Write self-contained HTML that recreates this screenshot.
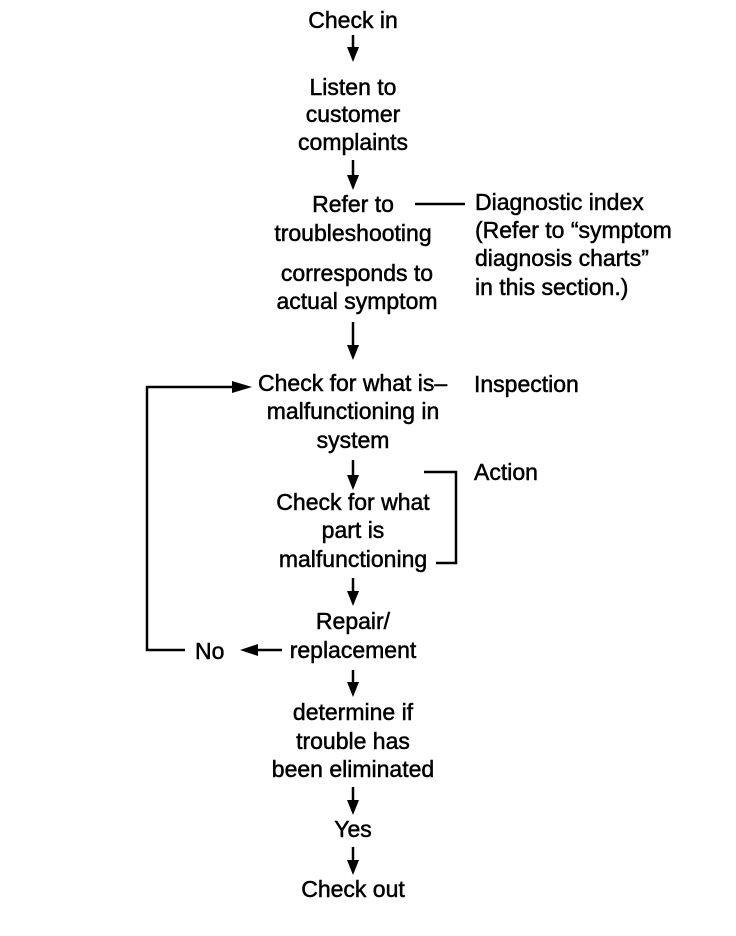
<!DOCTYPE html>
<html><head><meta charset="utf-8"><style>
html,body{margin:0;padding:0;background:#fff;}
svg{display:block;}
text{font-family:"Liberation Sans",sans-serif;font-size:23px;fill:#000;stroke:#000;stroke-width:0.5;dominant-baseline:central;}
</style></head><body>
<svg width="736" height="936" viewBox="0 0 736 936" xmlns="http://www.w3.org/2000/svg">
<g text-anchor="middle">
<text x="353" y="20">Check in</text>
<text x="353" y="87">Listen to</text>
<text x="353" y="114">customer</text>
<text x="353" y="142">complaints</text>
<text x="353" y="204">Refer to</text>
<text x="353" y="233">troubleshooting</text>
<text x="357" y="273">corresponds to</text>
<text x="357" y="301">actual symptom</text>
<text x="353" y="411">malfunctioning in</text>
<text x="353" y="440">system</text>
<text x="353" y="502">Check for what</text>
<text x="353" y="530">part is</text>
<text x="353" y="559">malfunctioning</text>
<text x="353" y="621">Repair/</text>
<text x="353" y="650">replacement</text>
<text x="353" y="712">determine if</text>
<text x="353" y="741">trouble has</text>
<text x="353" y="769">been eliminated</text>
<text x="353" y="829">Yes</text>
<text x="353" y="889">Check out</text>
</g>
<text x="258" y="383">Check for what is–</text>
<text x="474" y="384">Inspection</text>
<text x="474" y="472">Action</text>
<text x="475" y="202">Diagnostic index</text>
<text x="475" y="230">(Refer to “symptom</text>
<text x="475" y="258">diagnosis charts”</text>
<text x="475" y="287">in this section.)</text>
<text x="195" y="651">No</text>
<g stroke="#000" stroke-width="2.5" fill="none">
<line x1="353" y1="35" x2="353" y2="50"/>
<line x1="353" y1="160" x2="353" y2="178"/>
<line x1="353" y1="322" x2="353" y2="348"/>
<line x1="353" y1="460" x2="353" y2="478"/>
<line x1="353" y1="578" x2="353" y2="594"/>
<line x1="353" y1="670" x2="353" y2="685"/>
<line x1="353" y1="787" x2="353" y2="802"/>
<line x1="353" y1="847" x2="353" y2="862"/>
<line x1="415" y1="204" x2="465" y2="204"/>
<polyline points="424,472 456,472 456,563 436,563"/>
<line x1="282" y1="650" x2="255" y2="650"/>
<polyline points="185,650 147,650 147,387 235,387"/>
</g>
<g fill="#000">
<path d="M347,47 L359,47 L353,62 Z"/>
<path d="M347,175 L359,175 L353,190 Z"/>
<path d="M347,345 L359,345 L353,360 Z"/>
<path d="M347,475 L359,475 L353,490 Z"/>
<path d="M347,591 L359,591 L353,606 Z"/>
<path d="M347,682 L359,682 L353,697 Z"/>
<path d="M347,800 L359,800 L353,815 Z"/>
<path d="M347,860 L359,860 L353,875 Z"/>
<path d="M258,644 L258,656 L240,650 Z"/>
<path d="M232,381 L232,393 L252,387 Z"/>
</g>
</svg>
</body></html>
